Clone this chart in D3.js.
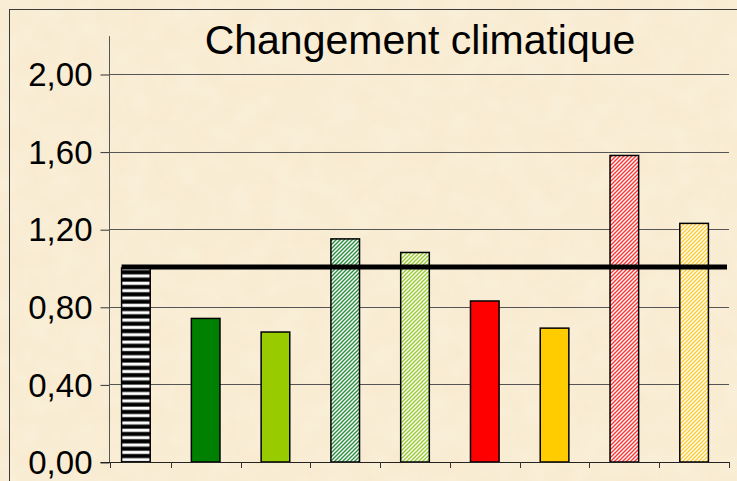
<!DOCTYPE html>
<html>
<head>
<meta charset="utf-8">
<script src="https://cdn.jsdelivr.net/npm/d3@7"></script>
<style>
  html, body { margin: 0; padding: 0; background: #f9eed6; }
  svg { display: block; }
  text { font-family: "Liberation Sans", Arial, sans-serif; fill: #000; }
</style>
</head>
<body>
<svg id="chart" width="737" height="481"></svg>
<script>
// Chart data
const title = "Changement climatique";
const categories = ["ref", "s1", "s2", "s3", "s4", "s5", "s6", "s7", "s8"];
const values = [1.00, 0.74, 0.67, 1.15, 1.08, 0.83, 0.69, 1.58, 1.23];
const barColors = ["#000000", "#008000", "#99cc00", "#2e9140", "#99cc33", "#ff0000", "#ffcc00", "#ff3838", "#ffcc33"];
const barFills = ["hstripe", "solid", "solid", "hatch", "hatch", "solid", "solid", "hatch", "hatch"];
const yTicks = [0, 0.4, 0.8, 1.2, 1.6, 2.0];
const yTickLabels = ["0,00", "0,40", "0,80", "1,20", "1,60", "2,00"];
const referenceValue = 1.0;
const yAxisMax = 2.195;

const W = 737, H = 481;
const svg = d3.select("#chart");
const defs = svg.append("defs");

// Parchment background with faint mottling
const paper = defs.append("filter").attr("id", "paper")
  .attr("x", 0).attr("y", 0).attr("width", "100%").attr("height", "100%");
paper.append("feTurbulence").attr("type", "fractalNoise")
  .attr("baseFrequency", 0.04).attr("numOctaves", 3).attr("seed", 7).attr("result", "noise");
paper.append("feColorMatrix").attr("in", "noise").attr("type", "matrix")
  .attr("values", "0 0 0 0 1  0 0 0 0 0.975  0 0 0 0 0.9  0.35 0 0 0 -0.1")
  .attr("result", "tint");
paper.append("feComposite").attr("in", "tint").attr("in2", "SourceGraphic").attr("operator", "over");

svg.append("rect").attr("width", W).attr("height", H).attr("fill", "#f8ebd1");
svg.append("rect").attr("width", W).attr("height", H).attr("fill", "#f8ebd1").attr("filter", "url(#paper)");

// Fill patterns
function hatch(id, color) {
  const p = defs.append("pattern").attr("id", id)
    .attr("patternUnits", "userSpaceOnUse").attr("width", 4).attr("height", 4);
  p.append("rect").attr("width", 4).attr("height", 4).attr("fill", "#ffffff");
  p.append("path").attr("d", "M-1,1 L1,-1 M0,4 L4,0 M3,5 L5,3")
    .attr("stroke", color).attr("stroke-width", 1.5).attr("stroke-linecap", "square");
}
function hstripe(id) {
  const p = defs.append("pattern").attr("id", id)
    .attr("patternUnits", "userSpaceOnUse").attr("width", 8).attr("height", 7.35);
  p.append("rect").attr("width", 8).attr("height", 7.35).attr("fill", "#000");
  p.append("rect").attr("y", 2.2).attr("width", 8).attr("height", 3.6).attr("fill", "#9a9a9a");
  p.append("rect").attr("y", 2.8).attr("width", 8).attr("height", 2.4).attr("fill", "#ffffff");
}
const fills = values.map((v, i) => {
  if (barFills[i] === "solid") return barColors[i];
  const id = "pat" + i;
  if (barFills[i] === "hatch") hatch(id, barColors[i]); else hstripe(id);
  return "url(#" + id + ")";
});

// Scales
const x = d3.scaleBand().domain(categories).range([101, 729]).padding(0);
const y = d3.scaleLinear().domain([0, 2.0]).range([462, 74]);
const axisX = 109.5;
const barW = x.bandwidth() * 0.41;

// Outer frame
svg.append("rect").attr("x", 9.5).attr("y", 9.5).attr("width", W + 10).attr("height", H + 10)
  .attr("fill", "none").attr("stroke", "#3a3a3a").attr("stroke-width", 1);

// Horizontal gridlines
svg.append("g").selectAll("line").data(yTicks.filter(d => d > 0)).join("line")
  .attr("x1", axisX).attr("x2", x.range()[1])
  .attr("y1", d => Math.round(y(d)) + 0.5).attr("y2", d => Math.round(y(d)) + 0.5)
  .attr("stroke", "#555").attr("stroke-width", 1);

// Y axis
const yAxis = d3.axisLeft(y).tickValues(yTicks).tickSize(9).tickPadding(8)
  .tickFormat((d, i) => yTickLabels[i]);
const gy = svg.append("g").attr("transform", `translate(${axisX},0.5)`).call(yAxis);
gy.select(".domain").remove();
gy.selectAll(".tick line").attr("stroke", "#333");
gy.selectAll(".tick text").attr("font-size", 33).attr("fill", "#000")
  .attr("font-family", "'Liberation Sans', Arial, sans-serif").attr("dy", "0.34em");
svg.append("line").attr("x1", axisX).attr("x2", axisX)
  .attr("y1", y(0)).attr("y2", y(yAxisMax)).attr("stroke", "#555").attr("stroke-width", 1);

// Bars
svg.append("g").selectAll("rect").data(values).join("rect")
  .attr("x", (d, i) => x(categories[i]) + (x.bandwidth() - barW) / 2)
  .attr("width", barW)
  .attr("y", d => y(d))
  .attr("height", d => y(0) - y(d))
  .attr("fill", (d, i) => fills[i])
  .attr("stroke", "#000").attr("stroke-width", 1.5);

// X axis line with ticks at category boundaries
svg.append("line").attr("x1", axisX - 9).attr("x2", x.range()[1])
  .attr("y1", y(0) + 0.5).attr("y2", y(0) + 0.5).attr("stroke", "#222").attr("stroke-width", 1.2);
const boundaries = [axisX].concat(categories.map(c => x(c) + x.bandwidth()));
svg.append("g").selectAll("line").data(boundaries).join("line")
  .attr("x1", d => Math.round(d) + 0.5).attr("x2", d => Math.round(d) + 0.5)
  .attr("y1", y(0)).attr("y2", y(0) + 6).attr("stroke", "#333").attr("stroke-width", 1);

// Reference line at 1.0
const firstLeft = x(categories[0]) + (x.bandwidth() - barW) / 2;
svg.append("line").attr("x1", firstLeft).attr("x2", x.range()[1] - 2)
  .attr("y1", y(referenceValue) - 1).attr("y2", y(referenceValue) - 1)
  .attr("stroke", "#000").attr("stroke-width", 5);

// Title
svg.append("text").attr("x", 420).attr("y", 54).attr("text-anchor", "middle")
  .attr("font-size", 41).text(title);
</script>
</body>
</html>
